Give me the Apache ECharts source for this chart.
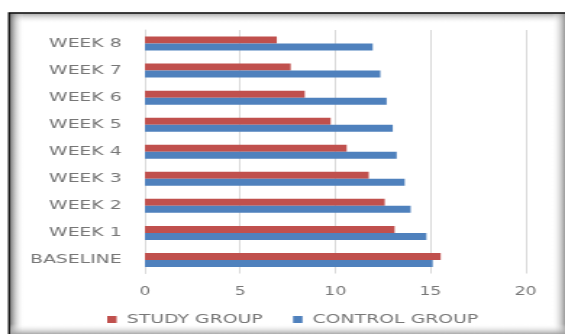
<!DOCTYPE html>
<html>
<head>
<meta charset="utf-8">
<script src="https://cdn.jsdelivr.net/npm/echarts@6/dist/echarts.min.js"></script>
<style>
    html, body { margin: 0; padding: 0; background: #fff; overflow: hidden; }
    /* the source picture is stretched sideways, so draw narrow and stretch the same way */
    #chart { width: 390px; height: 334px; transform: scaleX(1.4487); transform-origin: 0 0; }
</style>
</head>
<body>
<div id="chart"></div>
<script>
var categories = ['BASELINE', 'WEEK 1', 'WEEK 2', 'WEEK 3', 'WEEK 4', 'WEEK 5', 'WEEK 6', 'WEEK 7', 'WEEK 8'];
var studyGroup = [15.54, 13.12, 12.6, 11.76, 10.6, 9.76, 8.4, 7.66, 6.93];
var controlGroup = [15.12, 14.79, 13.96, 13.65, 13.23, 13.02, 12.7, 12.37, 11.97];
var xTicks = [0, 5, 10, 15, 20];

var textGray = '#777777';

function band(x, y, w, h, x2, y2, from, to) {
    return {
        type: 'rect',
        silent: true,
        z: -10,
        shape: {x: x, y: y, width: w, height: h},
        style: {
            fill: new echarts.graphic.LinearGradient(0, 0, x2, y2, [
                {offset: 0, color: from},
                {offset: 1, color: to}
            ])
        }
    };
}

var myChart = echarts.init(document.getElementById('chart'));
var option = {
    animation: false,
    backgroundColor: '#ffffff',
    graphic: [
        band(6.5, 13.5, 390, 10, 0, 1, 'rgba(150,150,150,0.8)', 'rgba(255,255,255,0)'),
        band(6.5, 13.5, 10, 330, 1, 0, 'rgba(90,90,90,0.9)', 'rgba(255,255,255,0)'),
        band(381, 13.5, 9, 330, 1, 0, 'rgba(255,255,255,0)', 'rgba(140,140,140,0.9)'),
        band(6.5, 324, 390, 10, 0, 1, 'rgba(255,255,255,0)', 'rgba(160,160,160,0.9)'),
        {
            type: 'rect',
            silent: true,
            z: -5,
            shape: {x: 6.2, y: 13, width: 400, height: 340},
            style: {fill: 'none', stroke: '#000', lineWidth: 1.3}
        }
    ],
    legend: {
        data: ['STUDY GROUP', 'CONTROL GROUP'],
        left: 69,
        top: 308,
        icon: 'rect',
        itemWidth: 6.5,
        itemHeight: 7,
        itemGap: 21,
        textStyle: {color: textGray, fontFamily: 'DejaVu Sans', fontSize: 13, padding: [0, 0, 0, 2]}
    },
    grid: {left: 100, right: 27.2, top: 30, bottom: 60.5, containLabel: false},
    xAxis: {
        type: 'value',
        min: xTicks[0],
        max: xTicks[xTicks.length - 1],
        interval: 5,
        axisLine: {show: false},
        axisTick: {show: false},
        axisLabel: {color: textGray, fontFamily: 'DejaVu Sans', fontSize: 12, margin: 12},
        splitLine: {lineStyle: {color: '#d9d9d9', width: 1}}
    },
    yAxis: {
        type: 'category',
        data: categories,
        axisLine: {show: true, lineStyle: {color: '#d9d9d9', width: 1}},
        axisTick: {show: false},
        axisLabel: {color: textGray, fontFamily: 'DejaVu Sans', fontSize: 13, margin: 16}
    },
    series: [
        {
            name: 'STUDY GROUP',
            type: 'bar',
            data: studyGroup,
            barWidth: 7,
            barGap: '0%',
            itemStyle: {color: '#c0504d'}
        },
        {
            name: 'CONTROL GROUP',
            type: 'bar',
            data: controlGroup,
            barWidth: 7,
            barGap: '0%',
            itemStyle: {color: '#4f81bd'}
        }
    ]
};
myChart.setOption(option);
</script>
</body>
</html>
